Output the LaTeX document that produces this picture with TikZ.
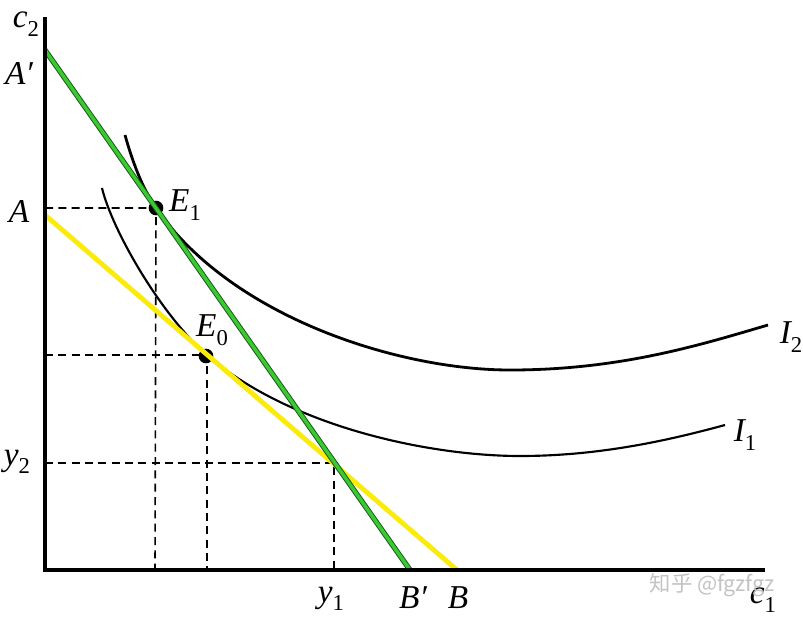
\documentclass[tikz,border=0pt]{standalone}
\usepackage{fontspec}
\setmainfont{Liberation Serif}
\newfontfamily\cjk{Noto Sans CJK SC}
\newcommand{\sbs}[1]{\raisebox{-0.55ex}{\fontsize{17}{18}\selectfont\upshape #1}}
\definecolor{grn}{RGB}{60,200,50}
\definecolor{grndark}{RGB}{20,90,20}
\definecolor{yel}{RGB}{250,235,10}
\definecolor{wm}{RGB}{195,195,195}
\begin{document}
\begin{tikzpicture}[x=0.75pt,y=-0.75pt,
  axis/.style={line width=2.3pt,black},
  curveA/.style={line width=2.1pt,black},
  curveB/.style={line width=1.6pt,black},
  guide/.style={line width=1.2pt,black,dash pattern=on 6pt off 4pt},
  lbl/.style={font=\fontsize{25}{28}\selectfont\itshape,inner sep=0pt},
  dot/.style={circle,fill=black,inner sep=0pt,minimum size=11pt}]
\fill[white] (0,0) rectangle (803,622);
\useasboundingbox (0,0) rectangle (803,622);
% key points
\coordinate (O) at (45,570);
\coordinate (Ytop) at (45,17);
\coordinate (Xend) at (765,570);
\coordinate (Ap) at (45,50);
\coordinate (Bp) at (410,570);
\coordinate (A) at (45,215);
\coordinate (B) at (457,570);
\coordinate (E1) at (156,208);
\coordinate (E0) at (207,355);
\coordinate (X) at (334,463);
\coordinate (AE1) at (45,208);
\coordinate (E1b) at (155,570);
\coordinate (AE0) at (45,355);
\coordinate (E0b) at (207,570);
\coordinate (AX) at (45,463);
\coordinate (Xb) at (334,570);
% dashed guides
\draw[guide] (AE1) -- (E1) -- (E1b);
\draw[guide] (AE0) -- (E0) -- (E0b);
\draw[guide] (AX) -- (X) -- (Xb);
% indifference curves
\draw[curveA] (125,135) .. controls (132,160) and (142,188) .. (E1)
  .. controls (232,318) and (400,370) .. (510,370)
  .. controls (620,370) and (700,345) .. (768,325);
\draw[curveB] (102,188) .. controls (112,230) and (161,315) .. (E0)
  .. controls (290,427) and (430,456) .. (520,456)
  .. controls (600,456) and (670,440) .. (725,425);
% dots
\node[dot] (d1) at (E1) {};
\node[dot] (d0) at (206,356) {};
% budget lines
\draw[yel,line width=3.6pt] (A) -- (B);
\draw[grndark,line width=4pt] (Ap) -- (Bp);
\draw[grn,line width=2.6pt] (Ap) -- (Bp);
% axes
\draw[axis] (Ytop) -- (O) -- (Xend);
% labels
\node[lbl] (lc2) at (26,24) {c\sbs{2}};
\node[lbl] (lAp) at (19,73) {A′};
\node[lbl] (lA) at (19,211) {A};
\node[lbl] (lE1) at (185,205) {E\sbs{1}};
\node[lbl] (lE0) at (212,330) {E\sbs{0}};
\node[lbl] (ly2) at (17,462) {y\sbs{2}};
\node[lbl] (ly1) at (331,599) {y\sbs{1}};
\node[lbl] (lBp) at (413,598) {B′};
\node[lbl] (lB) at (458,598) {B};
\node[lbl] (lc1) at (763,600) {c\sbs{1}};
\node[lbl] (lI2) at (791,337) {I\sbs{2}};
\node[lbl] (lI1) at (745,435) {I\sbs{1}};
\node[font=\cjk\fontsize{16}{18}\selectfont,text=wm,inner sep=0pt] (wmk) at (712,585) {知乎 @fgzfgz};
\end{tikzpicture}
\end{document}
